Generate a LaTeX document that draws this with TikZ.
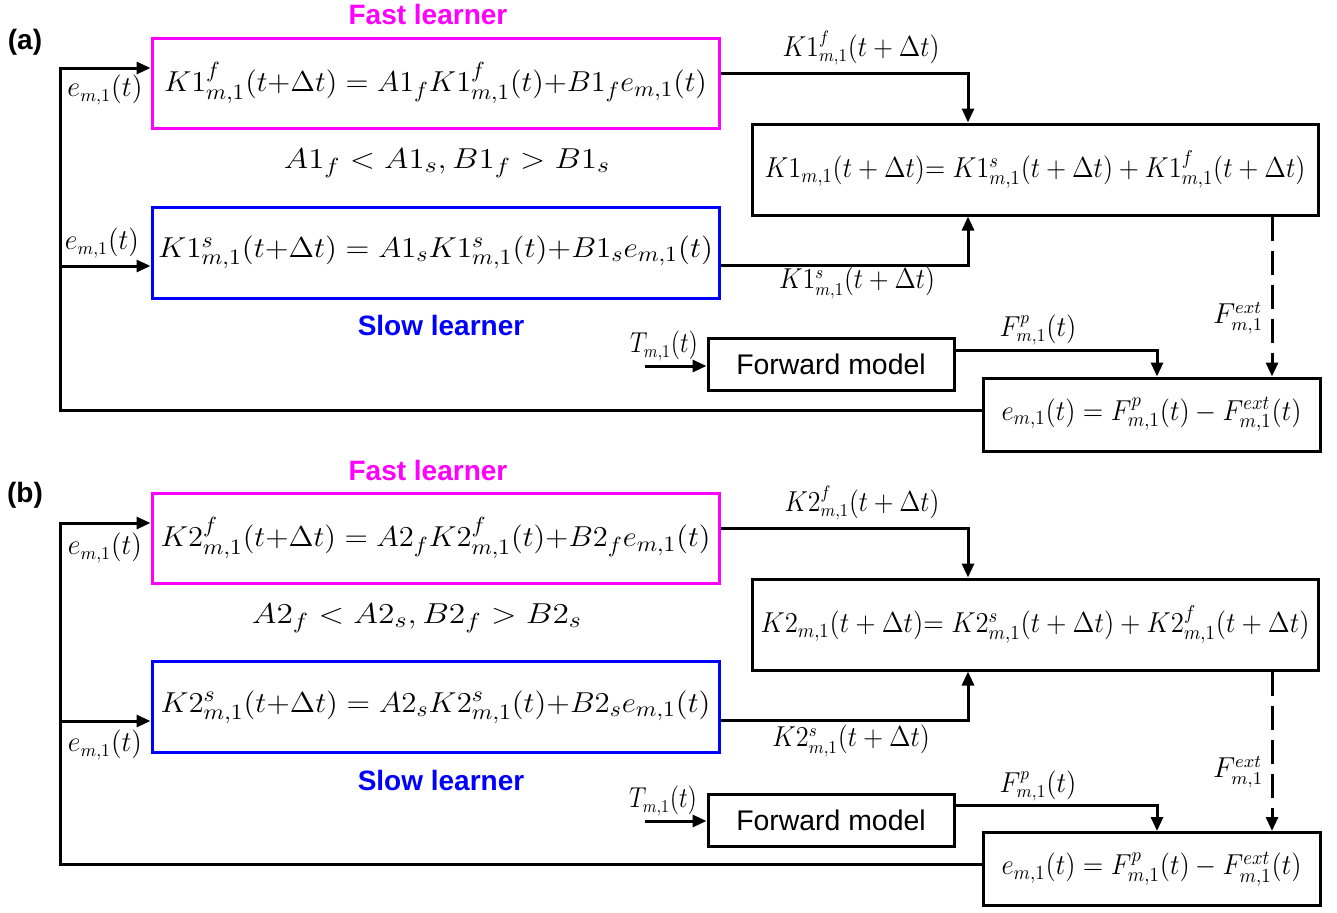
\documentclass[tikz,border=0pt]{standalone}
\usepackage{fontspec}
\usepackage{graphicx}
\usetikzlibrary{arrows.meta,calc}
\newfontfamily\arialf{Liberation Sans}
\definecolor{mag}{RGB}{255,0,255}
\definecolor{blu}{RGB}{0,0,255}
\newcommand\fw[2]{\resizebox{#1}{\height}{$#2$}}
\begin{document}
\begin{tikzpicture}[x=0.5pt,y=-0.5pt,
 ln/.style={line width=1.5pt},
 arr/.style={ln,-{Triangle[length=7pt,width=6pt]}},
 dsh/.style={arr,dash pattern=on 12pt off 5pt},
 box/.style={draw,line width=1.5pt,inner sep=0pt,font=\fontsize{15}{17}\selectfont},
 fastbox/.style={box,draw=mag,minimum width=283.5pt,minimum height=45pt},
 slowbox/.style={box,draw=blu,minimum width=283.5pt,minimum height=45.5pt},
 sumbox/.style={box,draw=black,minimum width=283pt,minimum height=45.5pt,font=\fontsize{14}{16}\selectfont},
 fwdbox/.style={box,minimum width=123pt,minimum height=26pt,font=\arialf\fontsize{14.2}{16}\selectfont},
 errbox/.style={box,minimum width=168.5pt,minimum height=36.5pt,font=\fontsize{14}{16}\selectfont},
 lbl/.style={inner sep=0pt,font=\fontsize{13.5}{15}\selectfont},
 ineq/.style={inner sep=0pt,font=\fontsize{15}{17}\selectfont},
 ttl/.style={inner sep=0pt,font=\arialf\bfseries\fontsize{14}{16}\selectfont},
]
\useasboundingbox (0,0) rectangle (1337,912);
% ---------------- panel (a)
\node[ttl] (labA) at (25,42) {(a)};
\node[ttl,text=mag] (fastLA) at (428,14) {Fast learner};
\node[fastbox] (fastA) at (435.5,83) {\fw{271.5pt}{K1^f_{m,1}(t{+}\Delta t) = A1_fK1^f_{m,1}(t){+}B1_fe_{m,1}(t)}};
\node[ineq] (ineqA) at (447,163) {\fw{163pt}{A1_f < A1_s, B1_f > B1_s}};
\node[slowbox] (slowA) at (435.5,252.5) {\fw{277.5pt}{K1^s_{m,1}(t{+}\Delta t) = A1_sK1^s_{m,1}(t){+}B1_se_{m,1}(t)}};
\node[ttl,text=blu] (slowLA) at (441,325) {Slow learner};
\node[sumbox] (sumA) at (1035,169.5) {\fw{270.5pt}{K1_{m,1}(t+\Delta t){=}\;K1^s_{m,1}(t+\Delta t)+K1^f_{m,1}(t+\Delta t)}};
\node[fwdbox] (fwdA) at (831,364) {Forward model};
\node[errbox] (errA) at (1151.5,414.5) {\fw{150pt}{e_{m,1}(t) = F^p_{m,1}(t) - F^{ext}_{m,1}(t)}};
\node[lbl] (leFA) at (105,90) {\fw{37.5pt}{e_{m,1}(t)}};
\node[lbl] (leSA) at (102,243) {\fw{37pt}{e_{m,1}(t)}};
\node[lbl] (lkfA) at (861,48) {\fw{78.5pt}{K1^f_{m,1}(t+\Delta t)}};
\node[lbl] (lksA) at (857,283) {\fw{78pt}{K1^s_{m,1}(t+\Delta t)}};
\node[lbl] (lfpA) at (1038,330) {\fw{38.5pt}{F^p_{m,1}(t)}};
\node[lbl] (lfeA) at (1238,318) {\fw{25pt}{F^{ext}_{m,1}}};
\node[lbl] (ltA) at (664,346) {\fw{34pt}{T_{m,1}(t)}};
\coordinate (fbA) at (60,68);
\coordinate (fbsA) at (60,266);
\coordinate (kfA) at (968,73);
\coordinate (ksA) at (968,265);
\coordinate (dA) at (1272,0);
\coordinate (fpA) at (1157,350);
\coordinate (tinA) at (645,366);
\draw[arr] ([yshift=2.25pt]errA.west) -| (fbA) -- (fbA -| fastA.west);
\draw[arr] (fbsA) -- (fbsA -| slowA.west);
\draw[arr] (kfA -| fastA.east) -| (sumA.north -| kfA);
\draw[arr] (ksA -| slowA.east) -| (sumA.south -| ksA);
\draw[dsh] (sumA.south -| dA) -- (errA.north -| dA);
\draw[arr] (fpA -| fwdA.east) -| (errA.north -| fpA);
\draw[arr] (tinA) -- (tinA -| fwdA.west);
% ---------------- panel (b)
\node[ttl] (labB) at (25,495) {(b)};
\node[ttl,text=mag] (fastLB) at (428,470) {Fast learner};
\node[fastbox] (fastB) at (435.5,538) {\fw{275pt}{K2^f_{m,1}(t{+}\Delta t) = A2_fK2^f_{m,1}(t){+}B2_fe_{m,1}(t)}};
\node[ineq] (ineqB) at (417,618) {\fw{165pt}{A2_f < A2_s, B2_f > B2_s}};
\node[slowbox] (slowB) at (435.5,707) {\fw{275pt}{K2^s_{m,1}(t{+}\Delta t) = A2_sK2^s_{m,1}(t){+}B2_se_{m,1}(t)}};
\node[ttl,text=blu] (slowLB) at (441,780) {Slow learner};
\node[sumbox] (sumB) at (1035,624.5) {\fw{274.5pt}{K2_{m,1}(t+\Delta t){=}\;K2^s_{m,1}(t+\Delta t)+K2^f_{m,1}(t+\Delta t)}};
\node[fwdbox] (fwdB) at (831,820) {Forward model};
\node[errbox] (errB) at (1151.5,869) {\fw{150pt}{e_{m,1}(t) = F^p_{m,1}(t) - F^{ext}_{m,1}(t)}};
\node[lbl] (leFB) at (105,548) {\fw{37pt}{e_{m,1}(t)}};
\node[lbl] (leSB) at (105,745) {\fw{37pt}{e_{m,1}(t)}};
\node[lbl] (lkfB) at (862,503) {\fw{77.5pt}{K2^f_{m,1}(t+\Delta t)}};
\node[lbl] (lksB) at (851,741) {\fw{79pt}{K2^s_{m,1}(t+\Delta t)}};
\node[lbl] (lfpB) at (1038,786) {\fw{38.5pt}{F^p_{m,1}(t)}};
\node[lbl] (lfeB) at (1238,772) {\fw{25pt}{F^{ext}_{m,1}}};
\node[lbl] (ltB) at (663,801) {\fw{34pt}{T_{m,1}(t)}};
\coordinate (fbB) at (60,523);
\coordinate (fbsB) at (60,721);
\coordinate (kfB) at (968,528);
\coordinate (ksB) at (968,720);
\coordinate (dB) at (1272,0);
\coordinate (fpB) at (1157,805);
\coordinate (tinB) at (645,821);
\draw[arr] ([yshift=2.25pt]errB.west) -| (fbB) -- (fbB -| fastB.west);
\draw[arr] (fbsB) -- (fbsB -| slowB.west);
\draw[arr] (kfB -| fastB.east) -| (sumB.north -| kfB);
\draw[arr] (ksB -| slowB.east) -| (sumB.south -| ksB);
\draw[dsh] (sumB.south -| dB) -- (errB.north -| dB);
\draw[arr] (fpB -| fwdB.east) -| (errB.north -| fpB);
\draw[arr] (tinB) -- (tinB -| fwdB.west);
\end{tikzpicture}
\end{document}
